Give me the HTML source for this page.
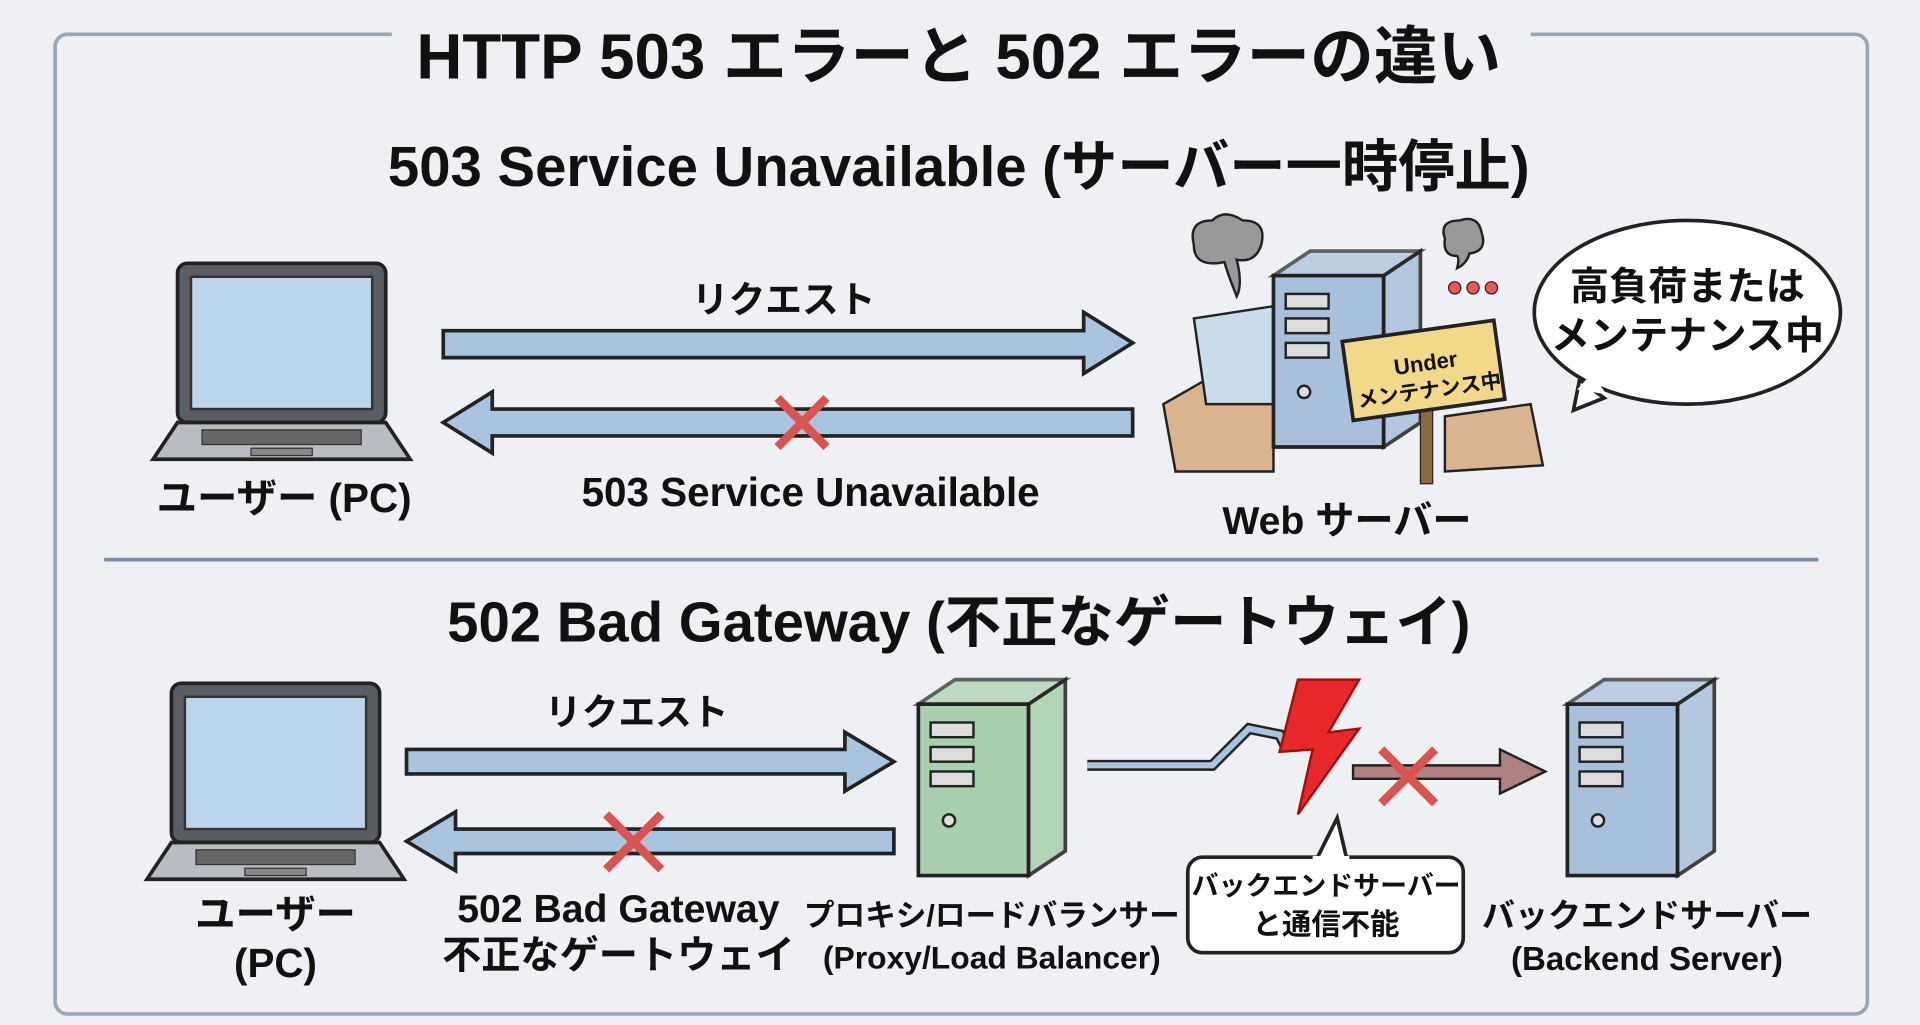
<!DOCTYPE html><html><head><meta charset="utf-8"><style>html,body{margin:0;padding:0;background:#eef0f4;width:1920px;height:1025px;overflow:hidden}svg text{font-family:"Liberation Sans","Noto Sans CJK JP",sans-serif;font-weight:bold;fill:#111;text-anchor:middle}</style></head><body>
<svg width="1920" height="1025" viewBox="0 0 1568 837" xmlns="http://www.w3.org/2000/svg">
<defs>
<g id="laptop">
<rect x="20" y="0" width="170" height="130" rx="8" fill="#5a5d63" stroke="#222" stroke-width="3"/>
<rect x="31" y="11" width="148" height="108" fill="#bcd5ea" stroke="#333" stroke-width="2"/>
<path d="M20 130 L190 130 L210 160 L0 160 Z" fill="#b9bcc2" stroke="#222" stroke-width="3"/>
<rect x="40" y="136" width="130" height="12" fill="#666" stroke="#333" stroke-width="1"/>
<rect x="80" y="151" width="50" height="6" fill="#888" stroke="#333"/>
</g>
<g id="server">
<path d="M0 20 L90 20 L90 160 L0 160 Z" stroke="#222" stroke-width="3"/>
<path d="M90 20 L120 0 L120 140 L90 160 Z" stroke="#222" stroke-width="3" opacity="0.85"/>
<path d="M0 20 L30 0 L120 0 L90 20 Z" stroke="#222" stroke-width="3" opacity="0.7"/>
<rect x="10" y="35" width="35" height="12" fill="#ddd" stroke="#222" stroke-width="2"/>
<rect x="10" y="55" width="35" height="12" fill="#ddd" stroke="#222" stroke-width="2"/>
<rect x="10" y="75" width="35" height="12" fill="#ddd" stroke="#222" stroke-width="2"/>
<circle cx="25" cy="115" r="5" fill="#ddd" stroke="#222" stroke-width="2"/>
</g>
</defs>
<rect x="45" y="28" width="1480" height="800" rx="10" fill="#eef0f4" stroke="#9aa6b4" stroke-width="3"/>
<rect x="320" y="15" width="930" height="30" fill="#eef0f4"/>
<text x="783" y="64" font-size="52">HTTP 503 エラーと 502 エラーの違い</text>
<text x="783" y="152" font-size="46">503 Service Unavailable (サーバー一時停止)</text>
<use href="#laptop" x="125" y="215"/>
<text x="232" y="418" font-size="33">ユーザー (PC)</text>
<path d="M362 270 L885 270 L885 255 L925 280 L885 305 L885 292 L362 292 Z" fill="#a9c4de" stroke="#222" stroke-width="3"/>
<text x="640" y="255" font-size="30">リクエスト</text>
<path d="M925 334 L402 334 L402 320 L362 345 L402 370 L402 356 L925 356 Z" fill="#a9c4de" stroke="#222" stroke-width="3"/>
<path d="M635 325 L675 365 M675 325 L635 365" stroke="#d9534f" stroke-width="7"/>
<text x="662" y="413" font-size="33">503 Service Unavailable</text>
<path d="M975 200 q-5-20 15-20 q10-10 25 0 q20 0 15 20 q-5 15-20 12 q5 20 0 30 q-8-20-10-28 q-25 5-25-14z" fill="#999" stroke="#222" stroke-width="2"/>
<path d="M1180 195 q-5-15 12-15 q15-5 18 10 q5 15-10 17 q-2 8-10 12 q2-8 0-10 q-12 0-10-14z" fill="#999" stroke="#222" stroke-width="2"/>
<circle cx="1188" cy="235" r="5" fill="#e55" stroke="#222"/><circle cx="1203" cy="235" r="5" fill="#e55" stroke="#222"/><circle cx="1218" cy="235" r="5" fill="#e55" stroke="#222"/>
<path d="M950 330 L985 310 L1040 320 L1040 385 L960 385 Z" fill="#d9b48e" stroke="#222" stroke-width="2"/>
<path d="M975 260 L1040 250 L1040 330 L985 330 Z" fill="#c9dcea" stroke="#222" stroke-width="2"/>
<use href="#server" x="1040" y="205" fill="#a9c0dc"/>
<path d="M1180 340 L1250 330 L1260 380 L1180 385 Z" fill="#d9b48e" stroke="#222" stroke-width="2"/>
<rect x="1160" y="300" width="10" height="95" fill="#8a6a45" stroke="#222"/>
<rect x="1100" y="270" width="125" height="65" fill="#f2d98a" stroke="#222" stroke-width="3" transform="rotate(-8 1162 302)"/>
<text x="1165" y="303" font-size="18" transform="rotate(-8 1162 302)">Under</text>
<text x="1165" y="325" font-size="17" transform="rotate(-8 1162 302)">メンテナンス中</text>
<text x="1100" y="436" font-size="32">Web サーバー</text>
<path d="M1310 325 L1285 335 L1290 310 Z" fill="#fff" stroke="#222" stroke-width="3"/>
<ellipse cx="1378" cy="255" rx="125" ry="75" fill="#fff" stroke="#222" stroke-width="3"/>
<path d="M1288 318 L1300 305 L1312 322" fill="#fff"/>
<text x="1378" y="245" font-size="32">高負荷または</text>
<text x="1378" y="285" font-size="32">メンテナンス中</text>
<line x1="85" y1="457" x2="1485" y2="457" stroke="#7a8ea6" stroke-width="3"/>
<text x="783" y="524" font-size="46">502 Bad Gateway (不正なゲートウェイ)</text>
<use href="#laptop" x="120" y="558"/>
<text x="225" y="758" font-size="33">ユーザー</text>
<text x="225" y="798" font-size="33">(PC)</text>
<path d="M332 612 L690 612 L690 598 L730 622 L690 646 L690 632 L332 632 Z" fill="#a9c4de" stroke="#222" stroke-width="3"/>
<text x="520" y="592" font-size="30">リクエスト</text>
<path d="M730 677 L372 677 L372 663 L332 687 L372 711 L372 697 L730 697 Z" fill="#a9c4de" stroke="#222" stroke-width="3"/>
<path d="M495 665 L540 710 M540 665 L495 710" stroke="#d9534f" stroke-width="7"/>
<text x="505" y="753" font-size="32">502 Bad Gateway</text>
<text x="505" y="791" font-size="32">不正なゲートウェイ</text>
<use href="#server" x="750" y="555" fill="#a8d0ae"/>
<text x="810" y="756" font-size="25">プロキシ/ロードバランサー</text>
<text x="810" y="791" font-size="26">(Proxy/Load Balancer)</text>
<path d="M888 625 L990 625 L1020 595 L1045 600 L1050 610" fill="none" stroke="#222" stroke-width="9"/>
<path d="M888 625 L990 625 L1020 595 L1045 600 L1050 610" fill="none" stroke="#a9c4de" stroke-width="5"/>
<path d="M1060 555 L1110 555 L1085 598 L1110 595 L1060 665 L1072 612 L1045 614 Z" fill="#e8282a" stroke="#a01010" stroke-width="2"/>
<path d="M1105 625 L1225 625 L1225 612 L1262 630 L1225 648 L1225 636 L1105 636 Z" fill="#b08080" stroke="#222" stroke-width="2"/>
<path d="M1128 612 L1172 656 M1172 612 L1128 656" stroke="#d9534f" stroke-width="7"/>
<use href="#server" x="1280" y="555" fill="#a9c0dc"/>
<rect x="970" y="700" width="225" height="78" rx="12" fill="#fff" stroke="#222" stroke-width="3"/>
<path d="M1075 702 L1092 668 L1100 702 Z" fill="#fff" stroke="#222" stroke-width="3"/>
<rect x="1072" y="699" width="30" height="6" fill="#fff"/>
<text x="1083" y="731" font-size="22">バックエンドサーバー</text>
<text x="1083" y="763" font-size="24">と通信不能</text>
<text x="1345" y="757" font-size="27">バックエンドサーバー</text>
<text x="1345" y="792" font-size="27">(Backend Server)</text>
</svg></body></html>
